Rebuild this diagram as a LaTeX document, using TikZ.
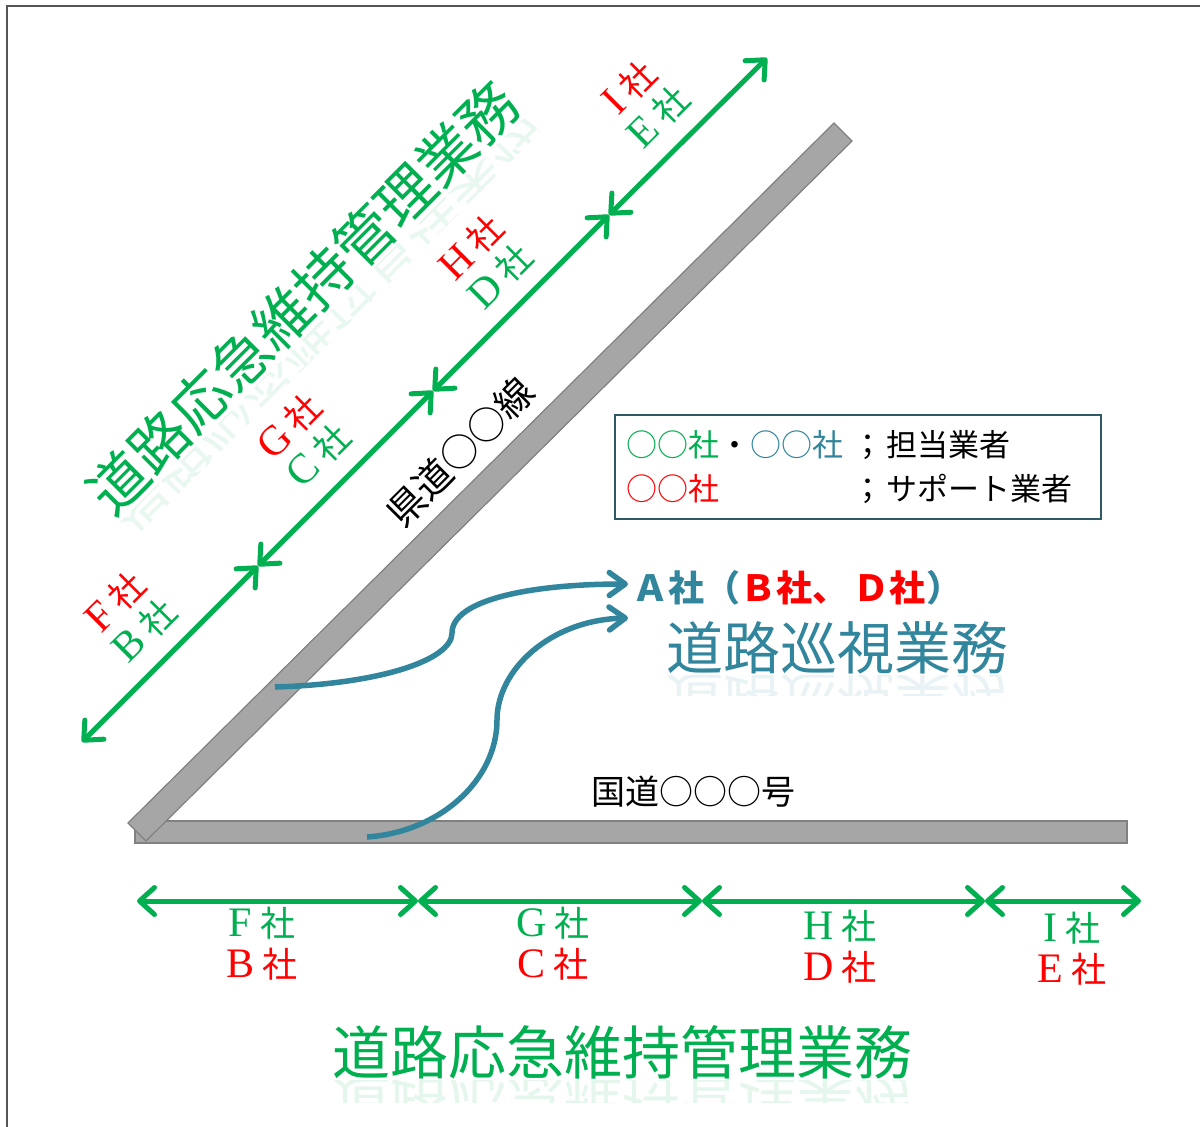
\documentclass[tikz,border=0pt]{standalone}
\usepackage{fontspec}
\setmainfont{Liberation Serif}
\newfontfamily\jp{Noto Sans CJK JP}
\usetikzlibrary{arrows.meta}
\definecolor{grn}{RGB}{0,176,80}
\definecolor{tealc}{RGB}{49,133,156}
\definecolor{roadfill}{RGB}{166,166,166}
\definecolor{roadedge}{RGB}{128,128,128}
\definecolor{legedge}{RGB}{46,90,104}
\definecolor{framec}{RGB}{85,85,85}
\newcommand\cmpny[1]{{\rmfamily\fontsize{42}{42}\selectfont #1}\hspace{0.22em}社}
\begin{document}
\begin{tikzpicture}[x=1pt,y=-1pt,
  road/.style={fill=roadfill,draw=roadedge,line width=1.2pt},
  gdarrow/.style={draw=grn,line width=5pt,{Straight Barb[round,length=15pt,width=27pt]}-{Straight Barb[round,length=15pt,width=27pt]}},
  barrow/.style={draw=tealc,line width=5.5pt,-{Straight Barb[round,length=16pt,width=23pt]}},
  lbl/.style={font=\jp\fontsize{35}{41}\selectfont,align=center,inner sep=0pt},
  title/.style={font=\jp\fontsize{58}{60}\selectfont,inner sep=0pt},
  legfont/.style={font=\jp\fontsize{31}{34}\selectfont,inner sep=0pt,anchor=west},
  roadlbl/.style={font=\jp\fontsize{34}{36}\selectfont,inner sep=0pt}
]
\useasboundingbox (0,0) rectangle (1200,1127);
\fill[white] (0,0) rectangle (1200,1127);
\draw[line width=2pt,draw=framec] (1200,6) -- (7,6) -- (7,1127);

% roads
\draw[road] (135,821) rectangle (1127,843);
\draw[road] (128,823) -- (146,841) -- (852,141) -- (834,123) -- cycle;

\node[roadlbl] (kokudo) at (693,792) {国道○○○号};
\node[roadlbl,font=\jp\fontsize{38}{40}\selectfont,rotate=45] (kendo) at (460,452) {県道○○線};

% diagonal title with reflection
\node[title,text=grn,rotate=45] (dtitle) at (303,298) {道路応急維持管理業務};
\begin{scope}[shift={(303,298)},rotate=45]
  \clip (-320,28) rectangle (320,50);
  \node[title,text=grn,opacity=0.09,transform shape,yscale=-1] (dtitlerefl) at (0,52) {道路応急維持管理業務};
\end{scope}

% bottom title with reflection
\node[title,text=grn] (btitle) at (622,1052) {道路応急維持管理業務};
\begin{scope}
  \clip (300,1080) rectangle (950,1102);
  \node[title,text=grn,opacity=0.1,yscale=-1] (btitlerefl) at (622,1104) {道路応急維持管理業務};
\end{scope}

% patrol text
\node[font=\jp\bfseries\fontsize{36}{38}\selectfont,text=tealc,inner sep=0pt] (acomp) at (797,588)
  {Ａ社（\textcolor{red}{Ｂ社、\,Ｄ社}）};
\node[font=\jp\fontsize{57}{60}\selectfont,text=tealc,inner sep=0pt] (patrol) at (837,648) {道路巡視業務};
\begin{scope}
  \clip (650,675) rectangle (1030,695);
  \node[font=\jp\fontsize{57}{60}\selectfont,text=tealc,opacity=0.1,inner sep=0pt,yscale=-1] (patrolrefl) at (837,699) {道路巡視業務};
\end{scope}

% blue curves
\coordinate (b1s) at (275,687);
\coordinate (b1e) at (628,584);
\coordinate (b2s) at (367,837);
\coordinate (b2e) at (628,618);
\draw[barrow] (b1s) .. controls (380,684) and (452,660) .. (452,633) .. controls (452,600) and (530,584) .. (b1e);
\draw[barrow] (b2s) .. controls (440,832) and (497,780) .. (497,720) .. controls (497,670) and (550,620) .. (b2e);

% diagonal green arrows
\coordinate (d0) at (82,742);
\coordinate (d1) at (258,566);
\coordinate (d2) at (433,391);
\coordinate (d3) at (609,215);
\coordinate (d4) at (767,58);
\draw[gdarrow] (d0) -- (d1);
\draw[gdarrow] (d1) -- (d2);
\draw[gdarrow] (d2) -- (d3);
\draw[gdarrow] (d3) -- (d4);

% horizontal green arrows
\coordinate (h0) at (137,901);
\coordinate (h1) at (418,901);
\coordinate (h2) at (702,901);
\coordinate (h3) at (985,901);
\coordinate (h4) at (1141,901);
\draw[gdarrow] (h0) -- (h1);
\draw[gdarrow] (h1) -- (h2);
\draw[gdarrow] (h2) -- (h3);
\draw[gdarrow] (h3) -- (h4);

% diagonal labels
\node[lbl,rotate=45] (df) at (130,616) {\textcolor{red}{\cmpny{F}}\\\textcolor{grn}{\cmpny{B}}};
\node[lbl,rotate=45] (dg) at (304,441) {\textcolor{red}{\cmpny{G}}\\\textcolor{grn}{\cmpny{C}}};
\node[lbl,rotate=45] (dh) at (486,262) {\textcolor{red}{\cmpny{H}}\\\textcolor{grn}{\cmpny{D}}};
\node[lbl,rotate=45] (di) at (644,102) {\textcolor{red}{\cmpny{I}}\\\textcolor{grn}{\cmpny{E}}};

% bottom labels
\node[lbl] (lf) at (262,944) {\textcolor{grn}{\cmpny{F}}\\\textcolor{red}{\cmpny{B}}};
\node[lbl] (lg) at (553,944) {\textcolor{grn}{\cmpny{G}}\\\textcolor{red}{\cmpny{C}}};
\node[lbl] (lh) at (840,947) {\textcolor{grn}{\cmpny{H}}\\\textcolor{red}{\cmpny{D}}};
\node[lbl] (li) at (1072,949) {\textcolor{grn}{\cmpny{I}}\\\textcolor{red}{\cmpny{E}}};

% legend
\node[draw=legedge,line width=2pt,minimum width=486pt,minimum height=104pt,inner sep=0pt] (legend) at (858,467) {};
\node[legfont] (leg1) at (626,445) {\textcolor{grn}{○○社}・\textcolor{tealc}{○○社}\hspace{0.3em}；\hspace{0.1em}担当業者};
\node[legfont] (leg2) at (626,489) {\textcolor{red}{○○社}\hspace{4.3em}；\hspace{0.1em}サポート業者};
\end{tikzpicture}
\end{document}
